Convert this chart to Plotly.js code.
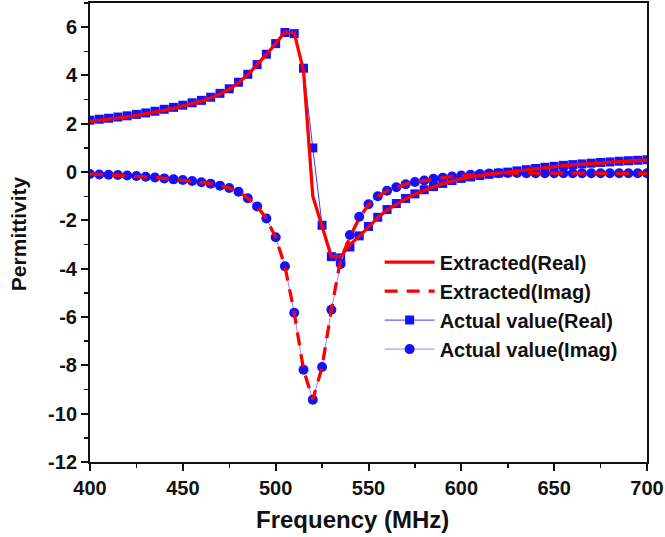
<!DOCTYPE html>
<html>
<head>
<meta charset="utf-8">
<script src="https://cdn.plot.ly/plotly-3.0.1.min.js"></script>
<style>html,body{margin:0;padding:0;background:#fff;}#chart{width:665px;height:537px;}</style>
</head>
<body>
<div id="chart"></div>
<script>
const freq = [400,405,410,415,420,425,430,435,440,445,450,455,460,465,470,475,480,485,490,495,500,505,510,515,520,525,530,535,540,545,550,555,560,565,570,575,580,585,590,595,600,605,610,615,620,625,630,635,640,645,650,655,660,665,670,675,680,685,690,695,700];

const actualReal = [2.15,2.19,2.23,2.28,2.33,2.39,2.45,2.52,2.60,2.68,2.77,2.87,2.97,3.10,3.26,3.45,3.72,4.05,4.45,4.88,5.32,5.78,5.73,4.30,1.00,-2.20,-3.50,-3.55,-3.10,-2.64,-2.25,-1.87,-1.55,-1.30,-1.09,-0.90,-0.73,-0.60,-0.47,-0.35,-0.26,-0.20,-0.14,-0.09,-0.04,0.00,0.05,0.10,0.15,0.20,0.24,0.28,0.31,0.34,0.37,0.40,0.42,0.45,0.47,0.49,0.51];

const extractedReal = [2.10,2.14,2.19,2.24,2.29,2.35,2.41,2.48,2.56,2.64,2.73,2.83,2.94,3.07,3.23,3.43,3.70,4.03,4.43,4.87,5.32,5.80,5.76,4.20,-1.00,-2.25,-3.50,-3.50,-3.00,-2.66,-2.27,-1.89,-1.57,-1.32,-1.11,-0.92,-0.75,-0.61,-0.48,-0.36,-0.27,-0.20,-0.14,-0.09,-0.04,0.00,0.05,0.10,0.15,0.19,0.23,0.27,0.30,0.33,0.36,0.39,0.41,0.44,0.46,0.48,0.50];

const actualImag = [-0.08,-0.10,-0.11,-0.12,-0.14,-0.16,-0.19,-0.22,-0.26,-0.30,-0.33,-0.37,-0.42,-0.48,-0.56,-0.66,-0.81,-1.08,-1.42,-1.92,-2.70,-3.90,-5.82,-8.18,-9.42,-8.07,-5.70,-3.80,-2.60,-1.85,-1.33,-1.00,-0.77,-0.63,-0.50,-0.41,-0.35,-0.28,-0.23,-0.18,-0.14,-0.11,-0.08,-0.06,-0.05,-0.04,-0.04,-0.05,-0.05,-0.05,-0.05,-0.05,-0.05,-0.05,-0.05,-0.05,-0.05,-0.05,-0.05,-0.05,-0.05];

const extractedImag = [-0.08,-0.10,-0.11,-0.12,-0.14,-0.16,-0.19,-0.22,-0.26,-0.30,-0.33,-0.37,-0.42,-0.48,-0.56,-0.66,-0.81,-1.08,-1.42,-1.92,-2.70,-3.90,-5.82,-8.18,-9.42,-8.07,-5.70,-3.60,-2.70,-1.90,-1.36,-1.02,-0.78,-0.63,-0.50,-0.41,-0.35,-0.28,-0.23,-0.18,-0.14,-0.11,-0.08,-0.06,-0.05,-0.04,-0.04,-0.05,-0.05,-0.05,-0.05,-0.05,-0.05,-0.05,-0.05,-0.05,-0.05,-0.05,-0.05,-0.05,-0.05];

const names = ['Extracted(Real)','Extracted(Imag)','Actual value(Real)','Actual value(Imag)'];
const xTicks = [400,450,500,550,600,650,700];
const yTicks = [-12,-10,-8,-6,-4,-2,0,2,4,6];
const xTitle = 'Frequency (MHz)';
const yTitle = 'Permittivity';

const traces = [
  {x: freq, y: actualReal, name: names[2], legendrank: 3, mode: 'lines+markers', type: 'scatter',
   line: {color: '#3b3bff', width: 1}, marker: {symbol: 'square', size: 9, color: '#1212ff'}},
  {x: freq, y: actualImag, name: names[3], legendrank: 4, mode: 'lines+markers', type: 'scatter',
   line: {color: '#8a8aff', width: 1}, marker: {symbol: 'circle', size: 10, color: '#1212ff'}},
  {x: freq, y: extractedReal, name: names[0], legendrank: 1, mode: 'lines', type: 'scatter',
   line: {color: '#ff0000', width: 3.3}},
  {x: freq, y: extractedImag, name: names[1], legendrank: 2, mode: 'lines', type: 'scatter',
   line: {color: '#ff0000', width: 3.3, dash: '13px,9px'}}
];

const fam = 'Liberation Sans, Arial, sans-serif';

const layout = {
  width: 665, height: 537,
  margin: {l: 90, r: 18, t: 3, b: 75},
  paper_bgcolor: '#fff', plot_bgcolor: '#fff',
  showlegend: true,
  legend: {x: 0.52, y: 0.478, xanchor: 'left', yanchor: 'top', bgcolor: 'rgba(0,0,0,0)', itemwidth: 50,
           font: {family: fam, size: 20, color: '#111', weight: 'bold'}},
  xaxis: {range: [400, 700], tickvals: xTicks, ticktext: xTicks.map(String),
          showgrid: false, zeroline: false, showline: true, linecolor: '#111', linewidth: 2, mirror: true,
          ticks: 'outside', ticklen: 7, tickwidth: 2, tickcolor: '#111',
          minor: {dtick: 25, tick0: 400, ticks: 'outside', ticklen: 4, tickwidth: 1.5, tickcolor: '#111'},
          tickfont: {family: fam, size: 20, color: '#111', weight: 'bold'}},
  yaxis: {range: [-12, 7], tickvals: yTicks, ticktext: yTicks.map(String),
          showgrid: false, zeroline: false, showline: true, linecolor: '#111', linewidth: 2, mirror: true,
          ticks: 'outside', ticklen: 7, tickwidth: 2, tickcolor: '#111',
          minor: {dtick: 1, tick0: 0, ticks: 'outside', ticklen: 4, tickwidth: 1.5, tickcolor: '#111'},
          tickfont: {family: fam, size: 20, color: '#111', weight: 'bold'}},
  annotations: [
    {text: xTitle, xref: 'paper', yref: 'paper', x: 0.472, y: -0.125, xanchor: 'center', yanchor: 'middle',
     showarrow: false, font: {family: fam, size: 24, color: '#111', weight: 'bold'}},
    {text: yTitle, xref: 'paper', yref: 'paper', x: -0.127, y: 0.497, xanchor: 'center', yanchor: 'middle',
     textangle: -90, showarrow: false, font: {family: fam, size: 21, color: '#111', weight: 'bold'}}
  ]
};

Plotly.newPlot('chart', traces, layout, {displayModeBar: false, staticPlot: true});
</script>
</body>
</html>
